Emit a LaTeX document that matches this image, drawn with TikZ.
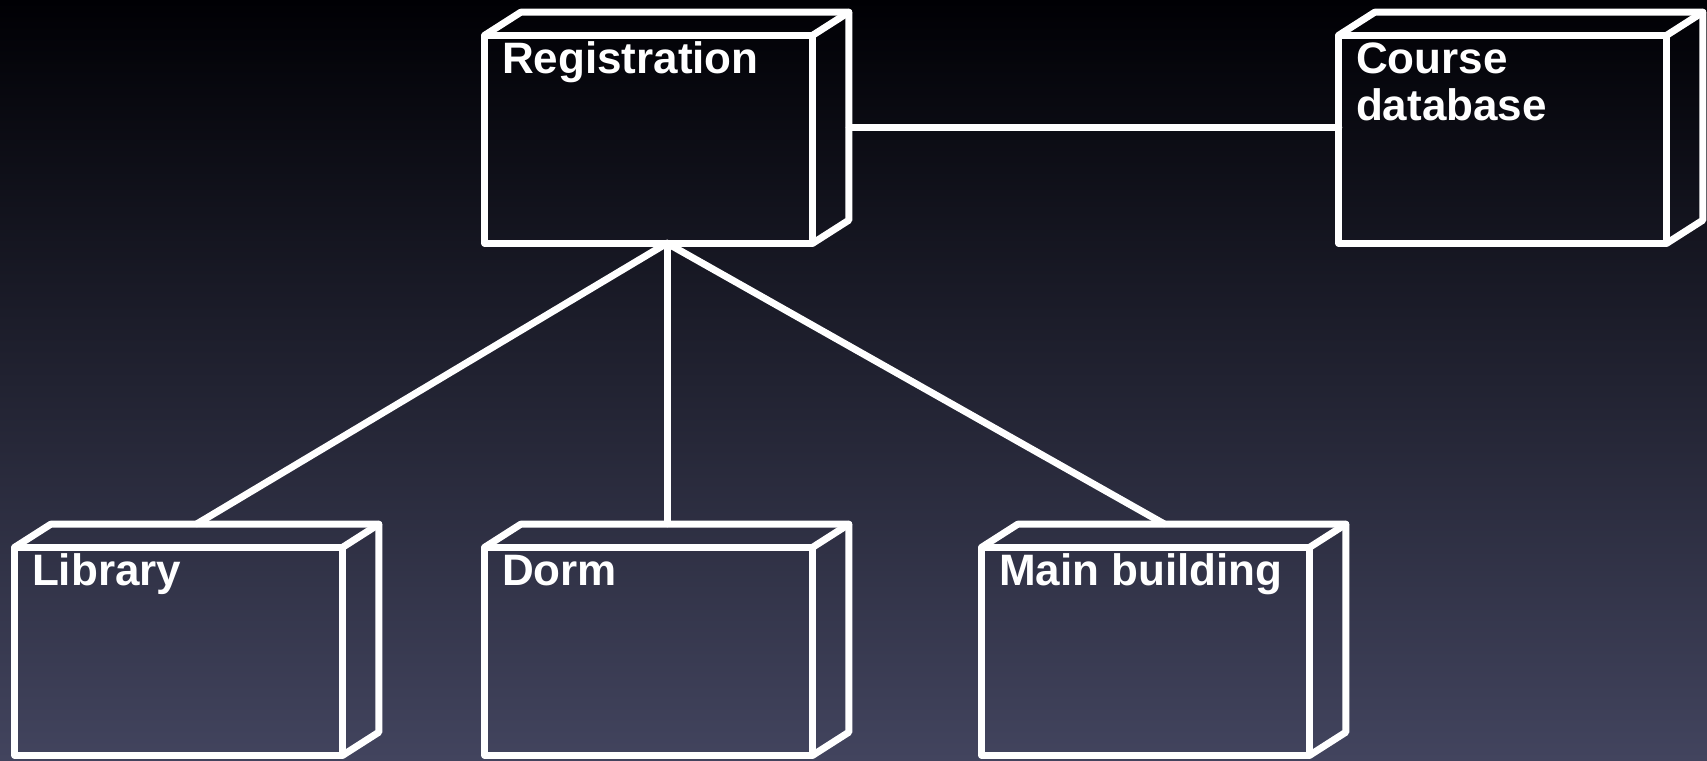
\documentclass[tikz,border=0pt]{standalone}
\usepackage{fontspec}
\setmainfont{Liberation Sans}
\usetikzlibrary{calc}

\definecolor{bgtop}{RGB}{0,0,4}
\definecolor{bgmid}{RGB}{20,22,58}
\definecolor{bgbot}{RGB}{66,68,94}

\tikzset{
  wire/.style={draw=white, line width=7pt, line join=round, line cap=round},
  boxarea/.style={draw=none, inner sep=0pt, minimum width=364pt, minimum height=231pt},
  boxlabel/.style={text=white, inner sep=0pt, anchor=base west, align=left,
    font=\bfseries\fontsize{44}{47}\selectfont},
}

% A deployment node: front face 328 x 208, depth offset (36,23).
% [#1] baseline of the last label line above the front bottom,
% #2 name, #3/#4 top-left corner of the front face, #5 label
\newcommand\devnode[5][170]{%
  \node[boxarea] (#2) at ({#3+182},{-#4-92.5}) {};
  \draw[wire] (#2.south west) rectangle ++(328,208);
  \draw[wire] ($(#2.south west)+(0,208)$) -- ++(36,23) -- ++(328,0) -- ++(0,-208) -- ++(-36,-23);
  \draw[wire] ($(#2.south west)+(328,208)$) -- ++(36,23);
  \node[boxlabel] (#2-text) at ($(#2.south west)+(17,#1)$) {#5};
}

\begin{document}
\begin{tikzpicture}[x=1pt, y=1pt]
  \useasboundingbox (0,0) rectangle (1707,-760);
  \shade[top color=bgtop, middle color=bgmid, bottom color=bgbot, shading angle=0]
    (0,0) rectangle (1707,-760);

  \devnode{reg}{485}{35}{Registration}
  \devnode[123]{db}{1339}{35}{Course\\database}
  \devnode{lib}{15}{547}{Library}
  \devnode{dorm}{485}{547}{Dorm}
  \devnode{main}{982}{547}{Main building}

  \draw[wire] (reg.east) -- (db.west);
  \draw[wire] (reg.south) -- (lib.north);
  \draw[wire] (reg.south) -- (dorm.north);
  \draw[wire] (reg.south) -- (main.north);
\end{tikzpicture}
\end{document}
